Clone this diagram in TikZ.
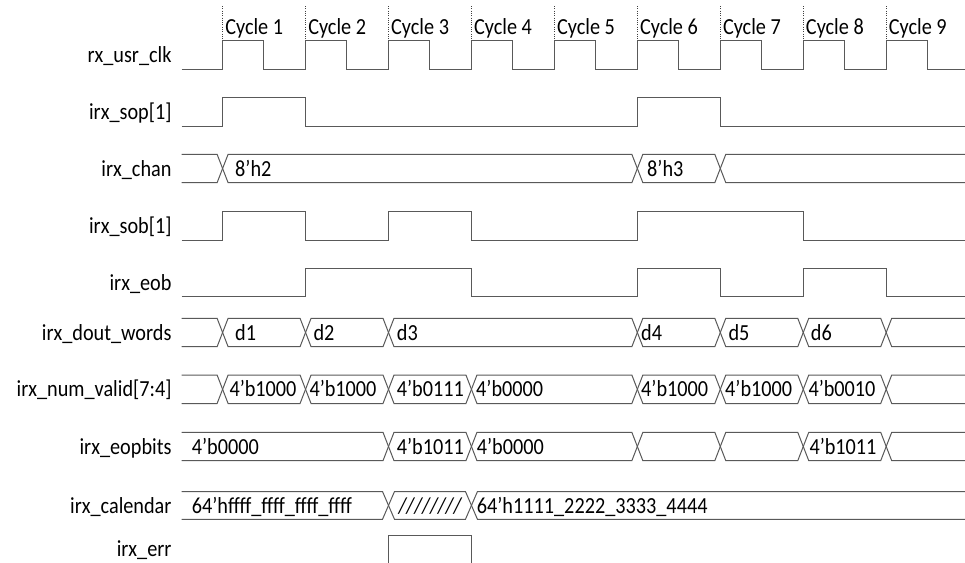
\documentclass[tikz,border=0pt]{standalone}
\usepackage{fontspec}
\setmainfont[FakeStretch=0.88]{Carlito}

\begin{document}
\begin{tikzpicture}[
    x=1pt, y=-1pt,
    declare function={t(\k)=222.6+82.95*\k;},
    every node/.style={font=\fontsize{23}{25}\selectfont, inner sep=0pt},
    signame/.style={anchor=base east},
    value/.style={anchor=base west},
    wave/.style={draw=black!65, line width=1pt},
    marker/.style={draw=black!75, line width=1pt, dash pattern=on 1pt off 1.3pt}
]
\useasboundingbox (0,0) rectangle (965,562);

% Signal names
\node[signame] (clk)    at (171.7,62.5)  {rx\_usr\_clk};
\node[signame] (sop)    at (171.7,119.3) {irx\_sop[1]};
\node[signame] (chan)   at (171.7,176)   {irx\_chan};
\node[signame] (sob)    at (171.7,233.3) {irx\_sob[1]};
\node[signame] (eob)    at (171.7,290)   {irx\_eob};
\node[signame] (dout)   at (171.7,340)   {irx\_dout\_words};
\node[signame] (nvalid) at (171.7,396.8) {irx\_num\_valid[7:4]};
\node[signame] (eopb)   at (171.7,454)   {irx\_eopbits};
\node[signame] (cal)    at (171.7,513)   {irx\_calendar};
\node[signame] (err)    at (171.7,556.5) {irx\_err};

% Cycle markers
\foreach \k [count=\n] in {0,...,8} {
    \draw[marker] ({t(\k)},6) -- ({t(\k)},40.7);
    \node[value] (cyc\n) at ({t(\k)+2.5},34.5) {Cycle \n};
}

% rx_usr_clk
\draw[wave] (181.7,69.3)
    \foreach \k in {0,...,8} { -| ({t(\k)},40.7) -| ({t(\k)+41.3},69.3) }
    -- (965,69.3);

% irx_sop[1]
\draw[wave] (181.7,126) -| ({t(0)},97.7) -| ({t(1)},126) -| ({t(5)},97.7)
    -| ({t(6)},126) -- (965,126);

% irx_chan
\draw[wave] (181.7,154.3) -- ({t(0)-5.5},154.3) -- ({t(0)},168.5) -- ({t(0)-5.5},182.7) -- (181.7,182.7);
\foreach \a/\b in {0/5,5/6}
    \draw[wave] ({t(\a)},168.5) -- ({t(\a)+5.5},154.3) -- ({t(\b)-5.5},154.3) -- ({t(\b)},168.5)
        -- ({t(\b)-5.5},182.7) -- ({t(\a)+5.5},182.7) -- cycle;
\draw[wave] (965,154.3) -- ({t(6)+5.5},154.3) -- ({t(6)},168.5) -- ({t(6)+5.5},182.7) -- (965,182.7);
\node[value] (chan2) at (235,176) {8'h2};
\node[value] (chan3) at (647,176) {8'h3};

% irx_sob[1]
\draw[wave] (181.7,240) -| ({t(0)},211.7) -| ({t(1)},240) -| ({t(2)},211.7) -| ({t(3)},240)
    -| ({t(5)},211.7) -| ({t(7)},240) -- (965,240);

% irx_eob
\draw[wave] (181.7,296.7) -| ({t(1)},268.3) -| ({t(3)},296.7) -| ({t(5)},268.3) -| ({t(6)},296.7)
    -| ({t(7)},268.3) -| ({t(8)},296.7) -- (965,296.7);

% irx_dout_words
\draw[wave] (181.7,318.3) -- ({t(0)-5.5},318.3) -- ({t(0)},332.5) -- ({t(0)-5.5},346.7) -- (181.7,346.7);
\foreach \a/\b in {0/1,1/2,2/5,5/6,6/7,7/8}
    \draw[wave] ({t(\a)},332.5) -- ({t(\a)+5.5},318.3) -- ({t(\b)-5.5},318.3) -- ({t(\b)},332.5)
        -- ({t(\b)-5.5},346.7) -- ({t(\a)+5.5},346.7) -- cycle;
\draw[wave] (965,318.3) -- ({t(8)+5.5},318.3) -- ({t(8)},332.5) -- ({t(8)+5.5},346.7) -- (965,346.7);
\node[value] (d1) at (235,340)   {d1};
\node[value] (d2) at (313.3,340) {d2};
\node[value] (d3) at (396.7,340) {d3};
\node[value] (d4) at (641,340)   {d4};
\node[value] (d5) at (728.3,340) {d5};
\node[value] (d6) at (810.7,340) {d6};

% irx_num_valid[7:4]
\draw[wave] (181.7,375) -- ({t(0)-5.5},375) -- ({t(0)},389.3) -- ({t(0)-5.5},403.5) -- (181.7,403.5);
\foreach \a/\b in {0/1,1/2,2/3,3/5,5/6,6/7,7/8}
    \draw[wave] ({t(\a)},389.3) -- ({t(\a)+5.5},375) -- ({t(\b)-5.5},375) -- ({t(\b)},389.3)
        -- ({t(\b)-5.5},403.5) -- ({t(\a)+5.5},403.5) -- cycle;
\draw[wave] (965,375) -- ({t(8)+5.5},375) -- ({t(8)},389.3) -- ({t(8)+5.5},403.5) -- (965,403.5);
\node[value] (nv1) at (229.3,396.8) {4'b1000};
\node[value] (nv2) at (309.3,396.8) {4'b1000};
\node[value] (nv3) at (396.7,396.8) {4'b0111};
\node[value] (nv4) at (476,396.8)   {4'b0000};
\node[value] (nv6) at (641,396.8)   {4'b1000};
\node[value] (nv7) at (725,396.8)   {4'b1000};
\node[value] (nv8) at (808.3,396.8) {4'b0010};

% irx_eopbits
\draw[wave] (181.7,432.3) -- ({t(2)-5.5},432.3) -- ({t(2)},446.5) -- ({t(2)-5.5},460.7) -- (181.7,460.7);
\foreach \a/\b in {2/3,3/5,5/6,6/7,7/8}
    \draw[wave] ({t(\a)},446.5) -- ({t(\a)+5.5},432.3) -- ({t(\b)-5.5},432.3) -- ({t(\b)},446.5)
        -- ({t(\b)-5.5},460.7) -- ({t(\a)+5.5},460.7) -- cycle;
\draw[wave] (965,432.3) -- ({t(8)+5.5},432.3) -- ({t(8)},446.5) -- ({t(8)+5.5},460.7) -- (965,460.7);
\node[value] (eb0) at (191.7,454) {4'b0000};
\node[value] (eb3) at (396.7,454) {4'b1011};
\node[value] (eb4) at (476.7,454) {4'b0000};
\node[value] (eb8) at (809.3,454) {4'b1011};

% irx_calendar
\draw[wave] (181.7,491.5) -- ({t(2)-6},491.5) -- ({t(2)},505.4) -- ({t(2)-6},519.3) -- (181.7,519.3);
\draw[wave] ({t(2)},505.4) -- ({t(2)+6},491.5) -- ({t(3)-6},491.5) -- ({t(3)},505.4)
    -- ({t(3)-6},519.3) -- ({t(2)+6},519.3) -- cycle;
\draw[wave] (965,491.5) -- ({t(3)+6},491.5) -- ({t(3)},505.4) -- ({t(3)+6},519.3) -- (965,519.3);
\node[value] (cal1) at (191.7,513) {64'hffff\_ffff\_ffff\_ffff};
\node[anchor=base] (calx) at (430,513) {\itshape ////////};
\node[value] (cal2) at (476.7,513) {64'h1111\_2222\_3333\_4444};

% irx_err
\draw[wave] ({t(2)},575) -- ({t(2)},535) -- ({t(3)},535) -- ({t(3)},575);

\end{tikzpicture}
\end{document}
